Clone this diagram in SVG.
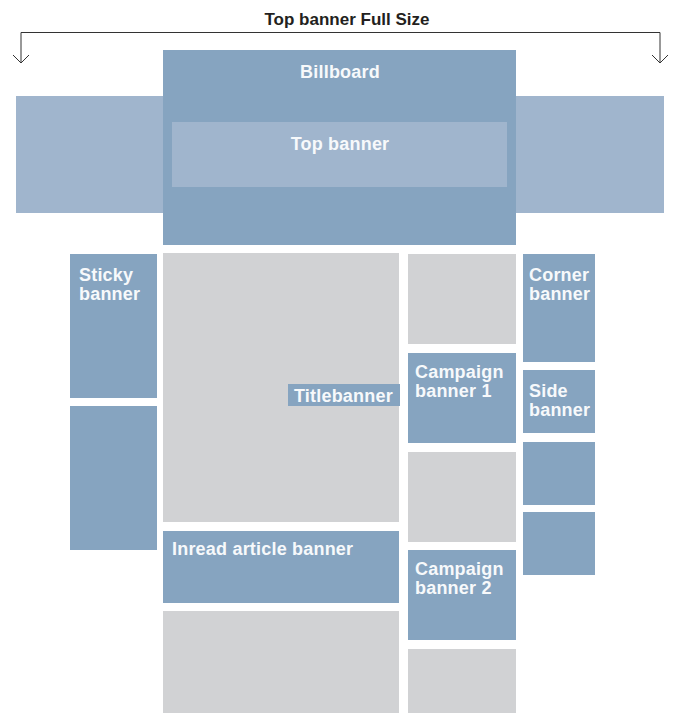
<svg xmlns="http://www.w3.org/2000/svg" width="674" height="713" viewBox="0 0 674 713">
<style>
.blue{fill:#86A4C0}
.light{fill:#A0B5CD}
.gray{fill:#D1D2D4}
.lbl{font-family:"Liberation Sans",Arial,sans-serif;font-weight:bold;font-size:18px;fill:#F7F9FB;letter-spacing:0.2px}
.title{font-family:"Liberation Sans",Arial,sans-serif;font-weight:bold;font-size:17px;fill:#231F20}
.conn{fill:none;stroke:#333;stroke-width:1}
</style>
<defs>
<marker id="arr" markerUnits="userSpaceOnUse" markerWidth="20" markerHeight="20" refX="0" refY="0" viewBox="-10 -10 20 20" orient="auto" overflow="visible">
<path d="M-8,-8 L0,0 L-8,8" fill="none" stroke="#333" stroke-width="1"/>
</marker>
</defs>
<rect width="674" height="713" fill="#fff"/>
<g id="connectors">
<path class="conn" d="M340,32.5 H21 V63" marker-end="url(#arr)"/>
<path class="conn" d="M340,32.5 H660 V63" marker-end="url(#arr)"/>
</g>
<text class="title" x="347" y="25" text-anchor="middle">Top banner Full Size</text>
<g id="topbanner-full">
<rect class="light" x="16" y="96" width="648" height="117"/>
</g>
<g id="billboard">
<rect class="blue" x="163" y="50" width="353" height="195"/>
<text class="lbl" x="340" y="78" text-anchor="middle">Billboard</text>
</g>
<g id="topbanner">
<rect class="light" x="172" y="122" width="335" height="65"/>
<text class="lbl" x="340" y="150" text-anchor="middle">Top banner</text>
</g>
<g id="sticky">
<rect class="blue" x="70" y="254" width="87" height="144"/>
<text class="lbl" x="79" y="281">Sticky</text>
<text class="lbl" x="79" y="300">banner</text>
</g>
<g id="sticky2">
<rect class="blue" x="70" y="406" width="87" height="144"/>
</g>
<g id="content">
<rect class="gray" x="163" y="253" width="236" height="269"/>
</g>
<g id="titlebanner">
<rect class="blue" x="288" y="384" width="112" height="22"/>
<text class="lbl" x="294" y="402">Titlebanner</text>
</g>
<g id="inread">
<rect class="blue" x="163" y="531" width="236" height="72"/>
<text class="lbl" x="172" y="555">Inread article banner</text>
</g>
<g id="content2">
<rect class="gray" x="163" y="611" width="236" height="102"/>
</g>
<g id="gray1">
<rect class="gray" x="408" y="254" width="108" height="90"/>
</g>
<g id="campaign1">
<rect class="blue" x="408" y="353" width="108" height="90"/>
<text class="lbl" x="415" y="378">Campaign</text>
<text class="lbl" x="415" y="397">banner 1</text>
</g>
<g id="gray2">
<rect class="gray" x="408" y="452" width="108" height="90"/>
</g>
<g id="campaign2">
<rect class="blue" x="408" y="550" width="108" height="90"/>
<text class="lbl" x="415" y="575">Campaign</text>
<text class="lbl" x="415" y="594">banner 2</text>
</g>
<g id="gray3">
<rect class="gray" x="408" y="649" width="108" height="64"/>
</g>
<g id="corner">
<rect class="blue" x="523" y="254" width="72" height="108"/>
<text class="lbl" x="529" y="281">Corner</text>
<text class="lbl" x="529" y="300">banner</text>
</g>
<g id="side">
<rect class="blue" x="523" y="370" width="72" height="63"/>
<text class="lbl" x="529" y="397">Side</text>
<text class="lbl" x="529" y="416">banner</text>
</g>
<g id="side2">
<rect class="blue" x="523" y="442" width="72" height="63"/>
</g>
<g id="side3">
<rect class="blue" x="523" y="512" width="72" height="63"/>
</g>
</svg>
